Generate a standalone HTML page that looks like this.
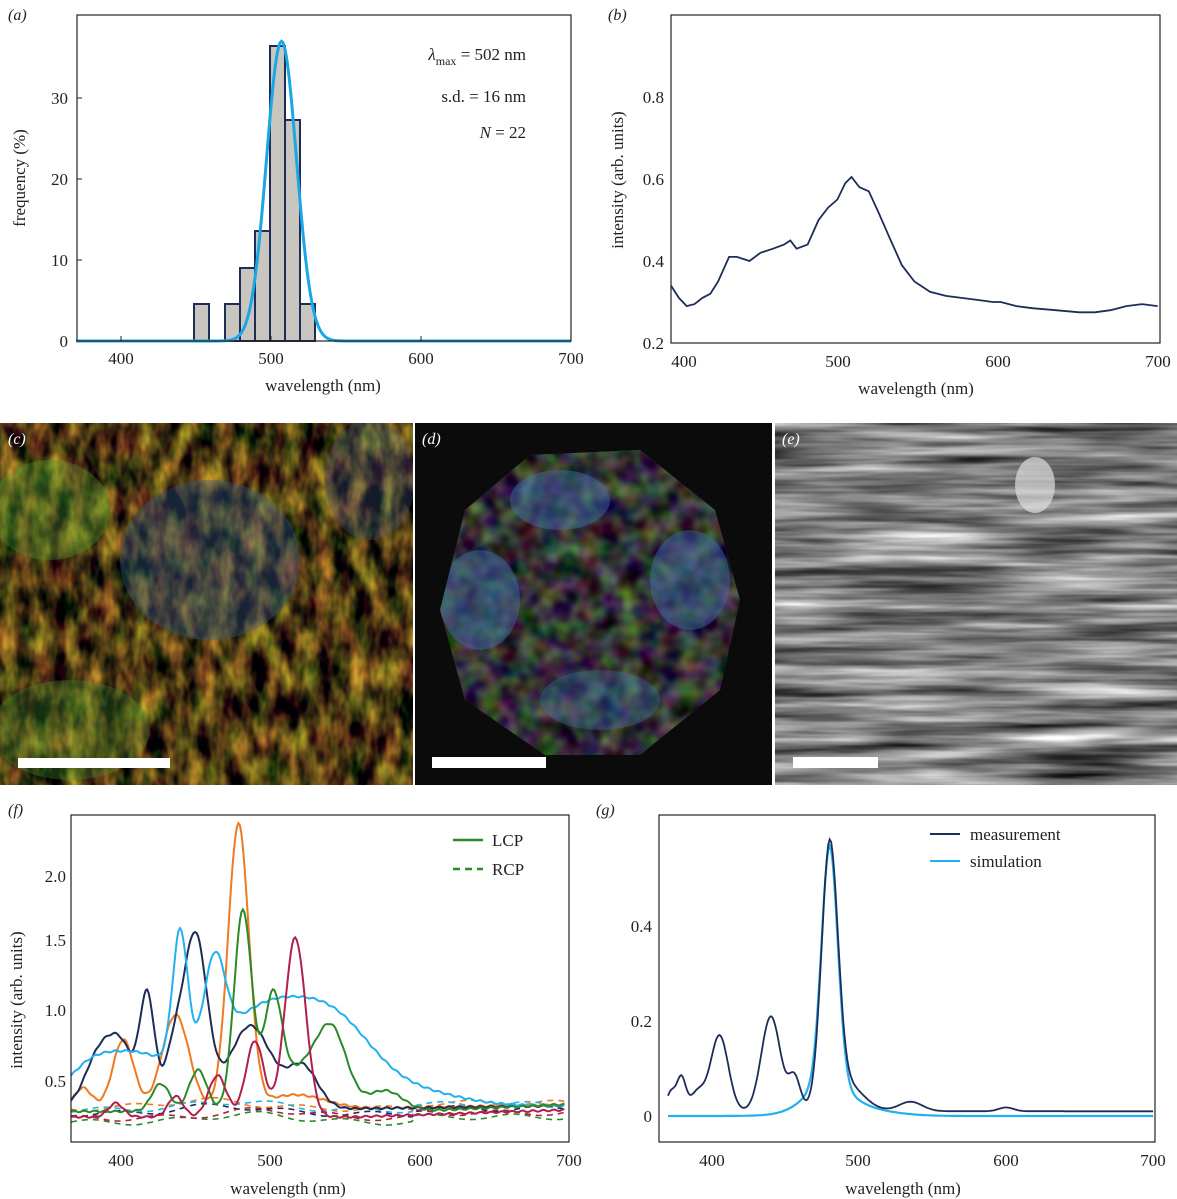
<!DOCTYPE html>
<html><head><meta charset="utf-8"><style>
html,body{margin:0;padding:0;background:#fff;}
svg{display:block;font-family:"Liberation Serif",serif;}
text{fill:#222;}
</style></head><body>
<svg id="s" width="1177" height="1199" viewBox="0 0 1177 1199" xmlns="http://www.w3.org/2000/svg">
<defs>
<filter id="tc" x="0" y="0" width="100%" height="100%" color-interpolation-filters="sRGB">
<feTurbulence type="fractalNoise" baseFrequency="0.06 0.03" numOctaves="3" seed="3"/>
<feColorMatrix type="matrix" values="1.3 0 0 0 -0.35  1.0 0.35 0 0 -0.45  0.25 0 0 0 -0.05  0 0 0 0 1"/>
</filter>
<filter id="td" x="0" y="0" width="100%" height="100%" color-interpolation-filters="sRGB">
<feTurbulence type="fractalNoise" baseFrequency="0.05" numOctaves="2" seed="7"/>
<feColorMatrix type="matrix" values="0.6 0 0 0 -0.1  0.5 0.6 0 0 -0.35  0.3 0 0.4 0 -0.15  0 0 0 0 1"/>
</filter>
<filter id="te" x="0" y="0" width="100%" height="100%" color-interpolation-filters="sRGB">
<feTurbulence type="fractalNoise" baseFrequency="0.006 0.09" numOctaves="3" seed="5"/>
<feColorMatrix type="matrix" values="0.8 0.8 0 0 -0.3  0.8 0.8 0 0 -0.3  0.8 0.8 0 0 -0.3  0 0 0 0 1"/>
</filter>
<clipPath id="oct"><polygon points="530,455 640,450 715,510 740,600 720,690 640,755 545,755 465,700 440,610 465,510"/></clipPath>
</defs>

<!-- Panel a -->
<text x="8" y="20" font-size="16" font-style="italic">(a)</text>
<g fill="#c8c6be" stroke="#1e2c58" stroke-width="2">
<rect x="194" y="304" width="15" height="37"/>
<rect x="225" y="304" width="15" height="37"/>
<rect x="240" y="268" width="15" height="73"/>
<rect x="255" y="231" width="15" height="110"/>
<rect x="270" y="46" width="15" height="295"/>
<rect x="285" y="120" width="15" height="221"/>
<rect x="300" y="304" width="15" height="37"/>
</g>
<path id="ga" fill="none" stroke="#1aa7e6" stroke-width="3"/>
<rect x="77" y="15" width="494" height="326" fill="none" stroke="#222" stroke-width="1.2"/>
<g font-size="17" text-anchor="middle">
<text x="121" y="364">400</text><text x="271" y="364">500</text><text x="421" y="364">600</text><text x="571" y="364">700</text>
<text x="323" y="391">wavelength (nm)</text>
</g>
<g font-size="17" text-anchor="end">
<text x="68" y="347">0</text><text x="68" y="266">10</text><text x="68" y="185">20</text><text x="68" y="104">30</text>
</g>
<g stroke="#222"><line x1="121" y1="341" x2="121" y2="336"/><line x1="271" y1="341" x2="271" y2="336"/><line x1="421" y1="341" x2="421" y2="336"/>
<line x1="77" y1="260" x2="82" y2="260"/><line x1="77" y1="179" x2="82" y2="179"/><line x1="77" y1="98" x2="82" y2="98"/></g>
<text transform="translate(25,178) rotate(-90)" font-size="17" text-anchor="middle">frequency (%)</text>
<g font-size="17" text-anchor="end">
<text x="526" y="60"><tspan font-style="italic">λ</tspan><tspan font-size="12" dy="5">max</tspan><tspan dy="-5"> = 502 nm</tspan></text>
<text x="526" y="102">s.d. = 16 nm</text>
<text x="526" y="138"><tspan font-style="italic">N</tspan> = 22</text>
</g>

<!-- Panel b -->
<text x="608" y="20" font-size="16" font-style="italic">(b)</text>
<path id="pb" fill="none" stroke="#1e2c58" stroke-width="1.8"/>
<rect x="671" y="15" width="489" height="328" fill="none" stroke="#222" stroke-width="1.2"/>
<g font-size="17" text-anchor="middle">
<text x="684" y="367">400</text><text x="838" y="367">500</text><text x="998" y="367">600</text><text x="1158" y="367">700</text>
<text x="916" y="394">wavelength (nm)</text>
</g>
<g font-size="17" text-anchor="end">
<text x="664" y="349">0.2</text><text x="664" y="267">0.4</text><text x="664" y="185">0.6</text><text x="664" y="103">0.8</text>
</g>
<text transform="translate(623,180) rotate(-90)" font-size="17" text-anchor="middle">intensity (arb. units)</text>

<!-- Image c -->
<svg x="0" y="423" width="413" height="362">
<rect x="0" y="0" width="413" height="362" fill="#2e2812"/>
<rect x="0" y="0" width="413" height="362" filter="url(#tc)"/>
<ellipse cx="210" cy="137" rx="90" ry="80" fill="#3a5a80" opacity="0.4"/>
<ellipse cx="370" cy="57" rx="45" ry="60" fill="#3a5a80" opacity="0.3"/>
<ellipse cx="50" cy="87" rx="60" ry="50" fill="#4a9a30" opacity="0.35"/>
<ellipse cx="70" cy="307" rx="80" ry="50" fill="#4a9a30" opacity="0.3"/>
</svg>
<rect x="18" y="758" width="152" height="10" fill="#fff"/>
<text x="8" y="444" font-size="16" font-style="italic" style="fill:#fff">(c)</text>

<!-- Image d -->
<rect x="415" y="423" width="357" height="362" fill="#0b0b0b"/>
<g clip-path="url(#oct)">
<rect x="430" y="440" width="320" height="330" fill="#2a3a28"/>
<rect x="430" y="440" width="320" height="330" filter="url(#td)"/>
<ellipse cx="560" cy="500" rx="50" ry="30" fill="#4070b0" opacity="0.45"/>
<ellipse cx="480" cy="600" rx="40" ry="50" fill="#4070b0" opacity="0.45"/>
<ellipse cx="690" cy="580" rx="40" ry="50" fill="#4070b0" opacity="0.45"/>
<ellipse cx="600" cy="700" rx="60" ry="30" fill="#4070b0" opacity="0.35"/>
</g>
<rect x="432" y="757" width="114" height="11" fill="#fff"/>
<text x="422" y="444" font-size="16" font-style="italic" style="fill:#fff">(d)</text>

<!-- Image e -->
<rect x="775" y="423" width="402" height="362" fill="#666"/>
<rect x="775" y="423" width="402" height="362" filter="url(#te)"/>
<ellipse cx="1035" cy="485" rx="20" ry="28" fill="#ddd" opacity="0.7"/>
<rect x="793" y="757" width="85" height="11" fill="#fff"/>
<text x="782" y="444" font-size="16" font-style="italic" style="fill:#fff">(e)</text>

<!-- Panel f -->
<text x="8" y="815" font-size="16" font-style="italic">(f)</text>
<g id="fcurves" fill="none" stroke-width="2"></g>
<rect x="71" y="815" width="498" height="327" fill="none" stroke="#222" stroke-width="1.2"/>
<g font-size="17" text-anchor="middle">
<text x="121" y="1166">400</text><text x="270" y="1166">500</text><text x="420" y="1166">600</text><text x="569" y="1166">700</text>
<text x="288" y="1194">wavelength (nm)</text>
</g>
<g font-size="17" text-anchor="end">
<text x="66" y="1087">0.5</text><text x="66" y="1016">1.0</text><text x="66" y="946">1.5</text><text x="66" y="882">2.0</text>
</g>
<text transform="translate(22,1000) rotate(-90)" font-size="17" text-anchor="middle">intensity (arb. units)</text>
<line x1="453" y1="840" x2="483" y2="840" stroke="#2a8a2a" stroke-width="2.5"/>
<line x1="453" y1="869" x2="483" y2="869" stroke="#2a8a2a" stroke-width="2.5" stroke-dasharray="7,5"/>
<text x="492" y="846" font-size="17">LCP</text>
<text x="492" y="875" font-size="17">RCP</text>

<!-- Panel g -->
<text x="596" y="815" font-size="16" font-style="italic">(g)</text>
<path id="gs" fill="none" stroke="#22b0ee" stroke-width="2.2"/>
<path id="gm" fill="none" stroke="#1e2c58" stroke-width="1.8"/>
<rect x="659" y="815" width="496" height="327" fill="none" stroke="#222" stroke-width="1.2"/>
<g font-size="17" text-anchor="middle">
<text x="712" y="1166">400</text><text x="858" y="1166">500</text><text x="1006" y="1166">600</text><text x="1153" y="1166">700</text>
<text x="903" y="1194">wavelength (nm)</text>
</g>
<g font-size="17" text-anchor="end">
<text x="652" y="1122">0</text><text x="652" y="1027">0.2</text><text x="652" y="932">0.4</text>
</g>
<line x1="930" y1="834" x2="960" y2="834" stroke="#1e2c58" stroke-width="2"/>
<line x1="930" y1="861" x2="960" y2="861" stroke="#22b0ee" stroke-width="2"/>
<text x="970" y="840" font-size="17">measurement</text>
<text x="970" y="867" font-size="17">simulation</text>
</svg>
<script>
function g(x,m,s){return Math.exp(-0.5*((x-m)/s)*((x-m)/s));}
function path(f,X,Y,a,b,st){st=st||1;var d="";for(var n=a;n<=b;n+=st){d+=(n==a?"M":"L")+X(n).toFixed(1)+","+Y(f(n)).toFixed(1);}return d;}
document.getElementById("ga").setAttribute("d",path(function(n){return 37*g(n,507,10);},function(n){return 121+(n-400)*1.5},function(v){return 341-v*8.1},370,700));
var bp=[[390,0.34],[395,0.31],[400,0.29],[405,0.295],[410,0.31],[415,0.32],[420,0.35],[427,0.41],[432,0.41],[440,0.40],[447,0.42],[455,0.43],[462,0.44],[466,0.45],[470,0.43],[477,0.44],[484,0.5],[490,0.53],[496,0.55],[501,0.59],[505,0.605],[510,0.58],[516,0.57],[522,0.52],[530,0.45],[537,0.39],[545,0.35],[555,0.325],[565,0.315],[575,0.31],[585,0.305],[595,0.3],[600,0.3],[610,0.29],[620,0.285],[635,0.28],[650,0.275],[660,0.275],[670,0.28],[680,0.29],[690,0.295],[700,0.29]];
var d="";for(var i=0;i<bp.length;i++){var x=671+(bp[i][0]-390)*1.57,y=343-(bp[i][1]-0.2)*410;d+=(i?"L":"M")+x.toFixed(1)+","+y.toFixed(1);}
document.getElementById("pb").setAttribute("d",d);
var FX=function(n){return 71+(n-370)*1.495},FY=function(v){return Math.max(816,1081-(v-0.5)*138)};
var curves=[
["#f07820",function(n){return 0.3+0.15*g(n,378,6)+0.5*g(n,405,7)+0.68*g(n,440,9)+2.05*g(n,482,7)+0.1*g(n,520,20)+0.03*(n>560?1:0)*(n-560)/140;}],
["#1e2c58",function(n){return 0.3+0.42*g(n,390,10)+0.35*g(n,405,8)+0.8*g(n,421,5)+0.35*g(n,438,6)+1.25*g(n,453,8)+0.6*g(n,490,14)+0.3*g(n,525,10)+0.02*(n>560?(n-560)/140:0);}],
["#22b0ee",function(n){return 0.32+0.15*g(n,380,15)+0.35*g(n,410,25)+0.95*g(n,443,5)+0.65*g(n,466,7)+0.7*g(n,500,35)+0.4*g(n,550,25)+0.1*g(n,600,30);}],
["#2a8a2a",function(n){return 0.28+0.2*g(n,430,6)+0.3*g(n,455,6)+1.45*g(n,485,6)+0.75*g(n,505,6)+0.3*g(n,525,15)+0.5*g(n,545,10)+0.15*g(n,580,12)+0.05*(n>600?(n-600)/100:0);}],
["#b0204a",function(n){return 0.24+0.1*g(n,400,5)+0.15*g(n,440,5)+0.3*g(n,468,6)+0.55*g(n,493,6)+1.3*g(n,520,7)+0.05*(n>560?(n-560)/140:0);}]
];
var fg=document.getElementById("fcurves"),ns="http://www.w3.org/2000/svg";
var dash=[["#f07820",0.3],["#1e2c58",0.26],["#22b0ee",0.29],["#2a8a2a",0.2],["#b0204a",0.23]];
dash.forEach(function(c,k){var p=document.createElementNS(ns,"path");p.setAttribute("d",path(function(n){return c[1]+0.06*g(n,460+k*10,30)+0.02*Math.sin(n/9+k)+(n>600?0.04:0);},FX,FY,370,700,3));p.setAttribute("stroke",c[0]);p.setAttribute("stroke-dasharray","6,5");p.setAttribute("stroke-width","1.6");fg.appendChild(p);});
curves.forEach(function(c){var p=document.createElementNS(ns,"path");p.setAttribute("d",path(function(n){return c[1](n)+0.006*Math.sin(n*0.9);},FX,FY,370,700));p.setAttribute("stroke",c[0]);fg.appendChild(p);});
var GX=function(n){return 668+(n-370)*1.47},GY=function(v){return 1116-v*475};
document.getElementById("gs").setAttribute("d",path(function(n){return 0.5*g(n,480,5.5)+0.05*g(n,478,14)+0.02*g(n,490,25);},GX,GY,370,700));
document.getElementById("gm").setAttribute("d",path(function(n){return 0.01+0.04*g(n,372,3)+0.07*g(n,379,3)+0.04*g(n,390,5)+0.16*g(n,405,6)+0.2*g(n,440,6.5)+0.07*g(n,456,4)+0.53*g(n,480,5.5)+0.06*g(n,490,12)+0.02*g(n,535,8)+0.008*g(n,600,5);},GX,GY,370,700));
</script>
</body></html>
